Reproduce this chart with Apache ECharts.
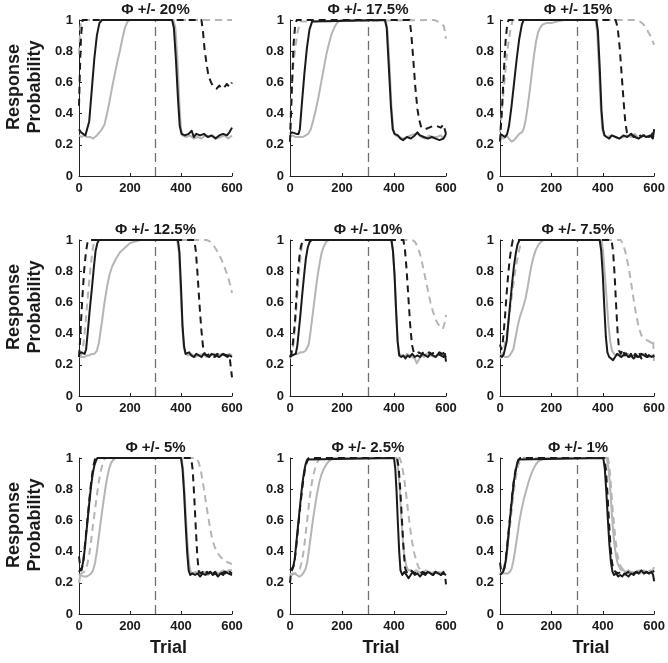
<!DOCTYPE html>
<html><head><meta charset="utf-8">
<script src="https://cdn.jsdelivr.net/npm/echarts@6/dist/echarts.min.js"></script>
<style>html,body{margin:0;padding:0;background:#fff}#c{width:668px;height:663px}</style>
</head><body><div id="c"></div>
<script>
// ---------- DATA ----------
const panelTitles = ['Φ +/- 20%','Φ +/- 17.5%','Φ +/- 15%','Φ +/- 12.5%','Φ +/- 10%','Φ +/- 7.5%','Φ +/- 5%','Φ +/- 2.5%','Φ +/- 1%'];
const xTicks = [0, 200, 400, 600];
const yTicks = [0, 0.2, 0.4, 0.6, 0.8, 1];
const switchTrial = 300;
const xLabel = 'Trial';
const yLabelLines = ['Response', 'Probability'];

// Φ 20%
const phi20_solidBlack = [[0,0.30],[8,0.28],[15,0.27],[25,0.26],[32,0.27],[40,0.35],[50,0.55],[60,0.75],[70,0.9],[80,0.98],[90,1],[365,1],[372,0.95],[380,0.75],[388,0.5],[395,0.32],[402,0.27],[415,0.26],[430,0.27],[442,0.29],[450,0.25],[460,0.27],[475,0.26],[490,0.27],[505,0.25],[520,0.26],[535,0.24],[550,0.26],[565,0.27],[580,0.26],[590,0.28],[600,0.31]];
const phi20_dashedBlack = [[0,0.45],[4,0.7],[8,0.9],[14,1],[480,1],[486,0.93],[492,0.82],[500,0.72],[508,0.64],[518,0.6],[528,0.57],[540,0.56],[550,0.58],[560,0.56],[570,0.57],[580,0.59],[590,0.57],[600,0.6]];
const phi20_solidGray = [[0,0.26],[10,0.25],[20,0.26],[30,0.25],[45,0.25],[55,0.24],[62,0.23],[70,0.26],[80,0.28],[90,0.3],[100,0.33],[110,0.4],[120,0.48],[130,0.57],[140,0.65],[150,0.73],[160,0.8],[170,0.88],[180,0.95],[190,0.99],[200,1],[370,1],[378,0.95],[386,0.75],[394,0.45],[400,0.3],[406,0.26],[420,0.25],[435,0.26],[450,0.24],[465,0.25],[480,0.24],[495,0.26],[510,0.25],[525,0.26],[540,0.24],[555,0.25],[570,0.26],[585,0.24],[600,0.26]];
const phi20_dashedGray = [[0,0.78],[5,0.95],[10,1],[600,1]];

// Φ 17.5%
const phi175_solidBlack = [[0,0.27],[8,0.28],[15,0.27],[25,0.27],[33,0.27],[38,0.3],[45,0.45],[55,0.65],[65,0.82],[75,0.94],[85,0.99],[92,1],[365,1],[372,0.95],[380,0.7],[388,0.45],[395,0.3],[402,0.27],[415,0.26],[425,0.24],[435,0.23],[450,0.25],[465,0.24],[480,0.26],[490,0.28],[500,0.26],[515,0.25],[530,0.24],[545,0.25],[560,0.24],[575,0.23],[590,0.24],[600,0.27]];
const phi175_dashedBlack = [[0,0.22],[3,0.35],[8,0.6],[14,0.85],[20,0.97],[26,1],[460,1],[466,0.92],[474,0.75],[482,0.57],[490,0.43],[497,0.36],[505,0.31],[520,0.3],[535,0.31],[550,0.32],[565,0.32],[580,0.31],[590,0.33],[597,0.34],[600,0.27]];
const phi175_solidGray = [[0,0.25],[10,0.26],[20,0.25],[35,0.25],[50,0.25],[60,0.26],[70,0.27],[80,0.3],[90,0.36],[100,0.43],[110,0.51],[120,0.6],[130,0.69],[140,0.78],[150,0.85],[160,0.91],[170,0.95],[180,0.98],[195,1],[368,1],[375,0.93],[383,0.7],[390,0.45],[397,0.3],[405,0.26],[420,0.25],[435,0.24],[450,0.25],[465,0.26],[480,0.27],[490,0.27],[505,0.25],[520,0.24],[535,0.26],[550,0.25],[565,0.25],[580,0.26],[590,0.24],[600,0.26]];
const phi175_dashedGray = [[0,0.3],[5,0.5],[12,0.7],[20,0.82],[30,0.93],[40,0.99],[45,1],[555,1],[570,0.99],[582,0.98],[592,0.96],[597,0.95],[600,0.88]];

// Φ 15%
const phi15_solidBlack = [[0,0.27],[10,0.26],[20,0.25],[28,0.27],[35,0.32],[45,0.45],[55,0.6],[65,0.75],[75,0.88],[85,0.97],[92,1],[375,1],[381,0.93],[388,0.7],[395,0.42],[401,0.3],[407,0.26],[415,0.25],[425,0.24],[435,0.26],[450,0.25],[465,0.24],[480,0.26],[495,0.25],[510,0.27],[525,0.25],[540,0.24],[555,0.26],[570,0.25],[585,0.26],[595,0.24],[600,0.3]];
const phi15_dashedBlack = [[0,0.22],[4,0.33],[10,0.5],[16,0.7],[22,0.87],[28,0.97],[33,1],[450,1],[458,0.95],[466,0.82],[474,0.64],[482,0.46],[488,0.34],[494,0.28],[500,0.26],[510,0.27],[520,0.25],[530,0.26],[540,0.27],[550,0.25],[560,0.26],[570,0.27],[580,0.25],[590,0.26],[600,0.3]];
const phi15_solidGray = [[0,0.22],[5,0.25],[15,0.24],[25,0.26],[35,0.24],[45,0.22],[55,0.23],[65,0.25],[75,0.27],[85,0.28],[92,0.3],[100,0.36],[108,0.45],[116,0.55],[124,0.66],[132,0.77],[140,0.86],[148,0.92],[156,0.95],[165,0.97],[180,0.98],[200,0.98],[220,0.99],[250,1],[372,1],[378,0.93],[385,0.7],[392,0.45],[398,0.3],[405,0.26],[420,0.25],[435,0.26],[450,0.25],[465,0.24],[480,0.25],[495,0.26],[510,0.25],[525,0.27],[540,0.24],[555,0.26],[570,0.25],[585,0.26],[600,0.25]];
const phi15_dashedGray = [[0,0.28],[4,0.35],[10,0.47],[18,0.62],[26,0.76],[34,0.87],[42,0.95],[50,1],[530,1],[545,0.99],[560,0.97],[575,0.93],[588,0.89],[600,0.84]];

// Φ 12.5%
const phi125_solidBlack = [[0,0.27],[8,0.28],[15,0.27],[22,0.27],[28,0.3],[35,0.42],[42,0.55],[50,0.68],[58,0.82],[65,0.93],[72,0.98],[78,1],[388,1],[394,0.92],[400,0.7],[406,0.45],[412,0.32],[418,0.27],[425,0.26],[432,0.28],[440,0.26],[450,0.25],[460,0.27],[470,0.26],[480,0.25],[490,0.27],[500,0.26],[510,0.25],[520,0.27],[535,0.26],[550,0.25],[565,0.27],[580,0.26],[590,0.26],[600,0.25]];
const phi125_dashedBlack = [[0,0.25],[4,0.35],[8,0.48],[14,0.65],[20,0.8],[27,0.92],[33,0.98],[38,1],[452,1],[458,0.93],[465,0.78],[472,0.6],[479,0.44],[486,0.32],[493,0.27],[502,0.26],[512,0.27],[522,0.26],[532,0.25],[542,0.27],[552,0.26],[562,0.27],[572,0.26],[582,0.25],[590,0.26],[596,0.25],[600,0.12]];
const phi125_solidGray = [[0,0.27],[8,0.25],[15,0.24],[22,0.25],[30,0.26],[40,0.26],[50,0.27],[60,0.27],[70,0.29],[78,0.34],[85,0.42],[92,0.5],[100,0.6],[110,0.7],[120,0.78],[130,0.83],[145,0.88],[160,0.92],[180,0.95],[200,0.98],[220,0.99],[240,1],[385,1],[392,0.92],[398,0.7],[405,0.45],[411,0.31],[418,0.27],[428,0.26],[440,0.27],[455,0.25],[470,0.26],[485,0.27],[500,0.25],[515,0.26],[530,0.27],[545,0.26],[560,0.27],[575,0.26],[590,0.27],[600,0.26]];
const phi125_dashedGray = [[0,0.25],[8,0.26],[15,0.3],[22,0.4],[30,0.55],[38,0.7],[45,0.82],[52,0.92],[58,0.98],[64,1],[500,1],[515,0.99],[530,0.96],[545,0.92],[560,0.87],[572,0.82],[585,0.76],[595,0.7],[600,0.66]];

// Φ 10%
const phi10_solidBlack = [[0,0.25],[8,0.26],[15,0.25],[22,0.27],[28,0.32],[34,0.42],[40,0.52],[47,0.65],[54,0.77],[61,0.88],[68,0.95],[76,0.99],[85,1],[390,1],[396,0.93],[402,0.78],[408,0.55],[414,0.35],[420,0.26],[428,0.25],[436,0.26],[444,0.24],[452,0.26],[460,0.25],[470,0.27],[480,0.25],[490,0.26],[500,0.25],[510,0.27],[520,0.26],[530,0.25],[540,0.27],[550,0.26],[560,0.25],[570,0.27],[580,0.26],[590,0.25],[596,0.27],[600,0.22]];
const phi10_dashedBlack = [[0,0.25],[5,0.27],[10,0.32],[15,0.4],[20,0.5],[25,0.64],[30,0.78],[36,0.89],[42,0.96],[50,1],[436,1],[442,0.94],[448,0.82],[455,0.64],[462,0.46],[469,0.33],[476,0.28],[485,0.27],[495,0.28],[505,0.27],[515,0.28],[525,0.27],[535,0.28],[545,0.27],[555,0.28],[565,0.27],[575,0.28],[585,0.27],[595,0.28],[600,0.25]];
const phi10_solidGray = [[0,0.27],[10,0.26],[20,0.27],[30,0.27],[40,0.28],[50,0.28],[60,0.29],[66,0.3],[72,0.33],[78,0.4],[84,0.48],[90,0.56],[96,0.64],[102,0.72],[108,0.79],[115,0.86],[122,0.92],[130,0.96],[140,0.99],[150,1],[390,1],[396,0.93],[402,0.78],[408,0.55],[414,0.35],[420,0.27],[430,0.26],[440,0.25],[450,0.27],[460,0.26],[470,0.25],[480,0.24],[488,0.21],[495,0.23],[505,0.26],[515,0.25],[525,0.27],[540,0.26],[555,0.25],[570,0.26],[585,0.27],[600,0.26]];
const phi10_dashedGray = [[0,0.24],[6,0.27],[12,0.32],[18,0.42],[24,0.55],[30,0.7],[36,0.82],[42,0.92],[48,0.98],[55,1],[470,1],[480,0.99],[490,0.96],[500,0.91],[510,0.84],[520,0.76],[530,0.68],[540,0.6],[550,0.54],[560,0.49],[570,0.46],[580,0.44],[588,0.43],[595,0.47],[600,0.52]];

// Φ 7.5%
const phi75_solidBlack = [[0,0.26],[8,0.25],[15,0.27],[20,0.28],[26,0.35],[33,0.48],[40,0.6],[47,0.72],[54,0.83],[61,0.91],[68,0.97],[76,1],[388,1],[394,0.93],[400,0.78],[406,0.57],[412,0.38],[418,0.28],[425,0.25],[432,0.24],[440,0.23],[448,0.25],[456,0.27],[464,0.26],[472,0.25],[480,0.26],[490,0.27],[500,0.25],[510,0.26],[520,0.24],[530,0.26],[540,0.25],[550,0.27],[560,0.26],[570,0.25],[580,0.26],[590,0.25],[600,0.26]];
const phi75_dashedBlack = [[0,0.33],[5,0.3],[10,0.33],[15,0.42],[20,0.52],[26,0.66],[32,0.78],[38,0.88],[44,0.95],[50,1],[434,1],[440,0.93],[446,0.78],[452,0.58],[458,0.4],[464,0.29],[470,0.27],[478,0.3],[486,0.26],[494,0.28],[502,0.25],[510,0.27],[518,0.24],[526,0.27],[534,0.25],[542,0.28],[550,0.24],[558,0.26],[566,0.27],[574,0.25],[584,0.27],[592,0.26],[600,0.25]];
const phi75_solidGray = [[0,0.27],[10,0.26],[20,0.25],[30,0.25],[38,0.26],[45,0.27],[52,0.3],[60,0.37],[68,0.44],[76,0.5],[84,0.54],[92,0.58],[100,0.63],[108,0.7],[116,0.78],[124,0.85],[132,0.9],[140,0.94],[150,0.97],[160,0.99],[170,1],[395,1],[401,0.93],[408,0.78],[415,0.62],[422,0.46],[429,0.35],[436,0.29],[444,0.27],[452,0.26],[460,0.27],[470,0.25],[480,0.27],[490,0.26],[500,0.27],[510,0.25],[520,0.26],[530,0.27],[540,0.25],[550,0.26],[560,0.27],[570,0.26],[580,0.25],[590,0.26],[600,0.25]];
const phi75_dashedGray = [[0,0.24],[8,0.26],[15,0.3],[22,0.36],[30,0.44],[38,0.54],[46,0.64],[54,0.74],[62,0.83],[70,0.9],[78,0.96],[86,1],[470,1],[480,0.97],[490,0.91],[500,0.83],[510,0.73],[520,0.62],[530,0.52],[540,0.44],[550,0.39],[560,0.37],[570,0.36],[580,0.35],[590,0.34],[596,0.36],[600,0.2]];

// Φ 5%
const phi5_solidBlack = [[0,0.27],[6,0.28],[12,0.3],[18,0.35],[24,0.44],[30,0.54],[36,0.64],[42,0.74],[48,0.83],[54,0.9],[60,0.95],[66,0.98],[72,1],[400,1],[406,0.93],[412,0.78],[418,0.58],[424,0.4],[430,0.28],[436,0.25],[445,0.26],[455,0.25],[465,0.26],[475,0.24],[485,0.26],[495,0.25],[505,0.26],[515,0.27],[525,0.25],[535,0.26],[545,0.24],[555,0.26],[565,0.25],[575,0.27],[585,0.26],[600,0.25]];
const phi5_dashedBlack = [[0,0.37],[5,0.3],[10,0.28],[16,0.33],[22,0.42],[28,0.52],[34,0.62],[40,0.72],[46,0.82],[52,0.9],[58,0.96],[64,1],[440,1],[446,0.92],[452,0.75],[458,0.55],[464,0.37],[470,0.27],[478,0.26],[486,0.27],[494,0.25],[502,0.27],[510,0.26],[518,0.28],[526,0.26],[534,0.27],[542,0.25],[550,0.27],[560,0.26],[570,0.27],[580,0.25],[590,0.27],[600,0.26]];
const phi5_solidGray = [[0,0.2],[5,0.25],[12,0.25],[20,0.24],[30,0.24],[40,0.25],[48,0.26],[55,0.28],[62,0.32],[70,0.4],[78,0.5],[86,0.6],[94,0.7],[102,0.79],[110,0.87],[118,0.93],[126,0.97],[135,0.99],[145,1],[402,1],[408,0.93],[414,0.78],[420,0.6],[426,0.44],[432,0.32],[438,0.27],[446,0.26],[456,0.27],[466,0.26],[476,0.27],[486,0.26],[496,0.27],[506,0.25],[516,0.27],[526,0.26],[536,0.27],[546,0.26],[556,0.27],[566,0.28],[576,0.27],[588,0.28],[600,0.28]];
const phi5_dashedGray = [[0,0.25],[10,0.26],[20,0.27],[30,0.3],[38,0.36],[46,0.45],[54,0.56],[62,0.66],[70,0.76],[78,0.85],[86,0.92],[94,0.97],[102,1],[460,1],[470,0.97],[480,0.9],[490,0.8],[500,0.69],[510,0.59],[520,0.5],[530,0.44],[540,0.4],[553,0.37],[570,0.34],[585,0.33],[600,0.32]];

// Φ 2.5%
const phi25_solidBlack = [[0,0.28],[6,0.27],[12,0.3],[18,0.35],[24,0.45],[30,0.55],[36,0.65],[42,0.75],[48,0.84],[54,0.91],[60,0.96],[66,0.99],[72,1],[400,1],[405,0.93],[410,0.78],[415,0.58],[420,0.4],[425,0.28],[432,0.25],[440,0.27],[448,0.25],[456,0.23],[464,0.25],[472,0.27],[480,0.25],[490,0.26],[500,0.24],[510,0.26],[520,0.25],[530,0.27],[540,0.26],[550,0.25],[560,0.27],[570,0.26],[580,0.25],[590,0.26],[600,0.25]];
const phi25_dashedBlack = [[0,0.2],[4,0.27],[10,0.29],[16,0.32],[22,0.4],[28,0.5],[34,0.6],[40,0.7],[46,0.79],[52,0.87],[58,0.93],[64,0.97],[72,1],[412,1],[418,0.94],[424,0.8],[430,0.62],[436,0.44],[442,0.3],[448,0.27],[456,0.26],[464,0.28],[472,0.27],[480,0.26],[490,0.27],[500,0.26],[510,0.27],[520,0.26],[530,0.27],[540,0.26],[550,0.25],[560,0.27],[570,0.26],[580,0.25],[590,0.27],[596,0.25],[600,0.19]];
const phi25_solidGray = [[0,0.26],[8,0.25],[16,0.26],[26,0.25],[36,0.24],[46,0.25],[54,0.27],[60,0.29],[66,0.33],[72,0.4],[80,0.5],[88,0.6],[96,0.69],[104,0.77],[112,0.84],[120,0.89],[130,0.93],[140,0.96],[150,0.98],[165,1],[410,1],[416,0.93],[422,0.8],[428,0.62],[434,0.47],[440,0.37],[447,0.31],[455,0.28],[465,0.28],[475,0.27],[485,0.28],[495,0.27],[505,0.26],[515,0.27],[525,0.26],[535,0.27],[545,0.26],[555,0.27],[565,0.26],[575,0.27],[585,0.26],[600,0.25]];
const phi25_dashedGray = [[0,0.25],[10,0.26],[20,0.26],[30,0.27],[38,0.29],[45,0.33],[52,0.4],[58,0.48],[64,0.57],[70,0.66],[76,0.75],[82,0.82],[88,0.88],[96,0.93],[104,0.97],[115,1],[422,1],[430,0.96],[438,0.88],[446,0.78],[454,0.66],[462,0.55],[470,0.46],[478,0.39],[486,0.34],[494,0.3],[502,0.28],[512,0.27],[522,0.28],[532,0.27],[545,0.26],[560,0.27],[575,0.26],[590,0.25],[600,0.25]];

// Φ 1%
const phi1_solidBlack = [[0,0.25],[6,0.26],[12,0.27],[18,0.3],[24,0.36],[30,0.46],[36,0.56],[42,0.66],[48,0.76],[54,0.85],[60,0.91],[66,0.96],[72,0.99],[78,1],[402,1],[408,0.93],[414,0.78],[420,0.6],[426,0.44],[432,0.33],[438,0.27],[444,0.25],[452,0.26],[460,0.24],[468,0.25],[476,0.24],[484,0.26],[492,0.25],[500,0.24],[510,0.26],[520,0.25],[530,0.27],[540,0.26],[550,0.28],[560,0.26],[570,0.27],[580,0.26],[590,0.27],[596,0.25],[600,0.21]];
const phi1_dashedBlack = [[0,0.33],[5,0.27],[10,0.26],[16,0.29],[22,0.35],[28,0.44],[34,0.54],[40,0.64],[46,0.74],[52,0.83],[58,0.9],[64,0.95],[70,0.98],[78,1],[406,1],[412,0.93],[418,0.78],[424,0.6],[430,0.44],[436,0.33],[442,0.28],[450,0.27],[460,0.26],[470,0.27],[480,0.25],[490,0.26],[500,0.27],[510,0.25],[520,0.26],[530,0.27],[540,0.26],[550,0.27],[560,0.26],[570,0.27],[580,0.26],[590,0.28],[600,0.27]];
const phi1_solidGray = [[0,0.25],[10,0.26],[20,0.26],[30,0.26],[38,0.27],[45,0.29],[52,0.34],[60,0.42],[68,0.51],[76,0.6],[84,0.67],[92,0.73],[100,0.78],[110,0.84],[120,0.89],[130,0.93],[140,0.96],[150,0.98],[165,0.99],[175,1],[415,1],[421,0.95],[427,0.85],[433,0.7],[439,0.56],[445,0.45],[451,0.38],[457,0.33],[464,0.3],[472,0.28],[480,0.28],[490,0.27],[500,0.28],[510,0.27],[520,0.26],[530,0.27],[540,0.28],[550,0.27],[560,0.28],[570,0.27],[580,0.26],[590,0.27],[600,0.3]];
const phi1_dashedGray = [[0,0.26],[8,0.27],[16,0.29],[22,0.33],[28,0.4],[34,0.49],[40,0.58],[46,0.67],[52,0.76],[58,0.84],[64,0.9],[70,0.95],[78,0.98],[86,1],[420,1],[426,0.94],[432,0.82],[438,0.68],[444,0.57],[450,0.47],[456,0.39],[462,0.34],[468,0.31],[476,0.29],[485,0.28],[495,0.27],[505,0.26],[515,0.27],[525,0.26],[535,0.27],[545,0.26],[555,0.27],[565,0.26],[575,0.27],[585,0.28],[595,0.27],[600,0.28]];

// per panel: [dashedGray, solidGray, dashedBlack, solidBlack]
const panelData = [
  [phi20_dashedGray, phi20_solidGray, phi20_dashedBlack, phi20_solidBlack],
  [phi175_dashedGray, phi175_solidGray, phi175_dashedBlack, phi175_solidBlack],
  [phi15_dashedGray, phi15_solidGray, phi15_dashedBlack, phi15_solidBlack],
  [phi125_dashedGray, phi125_solidGray, phi125_dashedBlack, phi125_solidBlack],
  [phi10_dashedGray, phi10_solidGray, phi10_dashedBlack, phi10_solidBlack],
  [phi75_dashedGray, phi75_solidGray, phi75_dashedBlack, phi75_solidBlack],
  [phi5_dashedGray, phi5_solidGray, phi5_dashedBlack, phi5_solidBlack],
  [phi25_dashedGray, phi25_solidGray, phi25_dashedBlack, phi25_solidBlack],
  [phi1_dashedGray, phi1_solidGray, phi1_dashedBlack, phi1_solidBlack]
];

// ---------- LAYOUT / STYLE ----------
const colLeft = [79, 290, 500];
const colWidth = [153, 156, 156];
const rowTop = [20, 240, 458];
const plotH = 156;
const FONT = '"Liberation Sans", Arial, Helvetica, sans-serif';
const BLACK = '#1a1a1a';
const GRAY = '#b5b5b5';
const DASH = [7, 5];

const grids = [], xAxes = [], yAxes = [], series = [], graphics = [];
for (let i = 0; i < 9; i++) {
  const r = Math.floor(i / 3), c = i % 3;
  grids.push({left: colLeft[c], top: rowTop[r], width: colWidth[c], height: plotH, containLabel: false});
  xAxes.push({
    gridIndex: i, type: 'value', min: xTicks[0], max: xTicks[xTicks.length-1], interval: xTicks[1]-xTicks[0],
    axisLine: {show: true, onZero: false, lineStyle: {color: '#222', width: 1}},
    axisTick: {show: true, inside: true, length: 3, lineStyle: {color: '#222'}},
    axisLabel: {color: '#1a1a1a', fontSize: 13, fontWeight: 'bold', fontFamily: FONT, margin: 6},
    splitLine: {show: false}
  });
  yAxes.push({
    gridIndex: i, type: 'value', min: yTicks[0], max: yTicks[yTicks.length-1], interval: yTicks[1]-yTicks[0],
    axisLine: {show: true, onZero: false, lineStyle: {color: '#222', width: 1}},
    axisTick: {show: true, inside: true, length: 3, lineStyle: {color: '#222'}},
    axisLabel: {color: '#1a1a1a', fontSize: 13, fontWeight: 'bold', fontFamily: FONT, margin: 6,
      formatter: v => String(Math.round(v*10)/10)},
    splitLine: {show: false}
  });
  const styles = [
    {color: GRAY, type: DASH},
    {color: GRAY, type: 'solid'},
    {color: BLACK, type: DASH},
    {color: BLACK, type: 'solid'}
  ];
  panelData[i].forEach((d, k) => {
    const s = {
      type: 'line', xAxisIndex: i, yAxisIndex: i, data: d, showSymbol: false, symbol: 'none',
      clip: false, animation: false, z: 2 + k,
      lineStyle: {color: styles[k].color, type: styles[k].type, width: 2, join: 'round', cap: 'butt'}
    };
    if (k === 0) {
      s.markLine = {silent: true, symbol: 'none', label: {show: false}, animation: false,
        lineStyle: {color: '#707070', type: [9, 5], width: 1.3},
        data: [{xAxis: switchTrial}]};
    }
    series.push(s);
  });
  // title
  graphics.push({type: 'text', x: colLeft[c] + colWidth[c]/2, y: rowTop[r] - 10,
    style: {text: panelTitles[i], font: 'bold 15px ' + FONT, fill: '#1a1a1a', textAlign: 'center', textVerticalAlign: 'middle'}});
}
for (let r = 0; r < 3; r++) {
  const cy = rowTop[r] + plotH/2 - 11;
  graphics.push({type: 'text', x: 14, y: cy, rotation: Math.PI/2,
    style: {text: yLabelLines[0], font: 'bold 18px ' + FONT, fill: '#1a1a1a', textAlign: 'center', textVerticalAlign: 'middle'}});
  graphics.push({type: 'text', x: 35, y: cy, rotation: Math.PI/2,
    style: {text: yLabelLines[1], font: 'bold 18px ' + FONT, fill: '#1a1a1a', textAlign: 'center', textVerticalAlign: 'middle'}});
}
for (let c = 0; c < 3; c++) {
  graphics.push({type: 'text', x: colLeft[c] + colWidth[c]/2 + 13, y: 648,
    style: {text: xLabel, font: 'bold 18px ' + FONT, fill: '#1a1a1a', textAlign: 'center', textVerticalAlign: 'middle'}});
}

const chart = echarts.init(document.getElementById('c'), null, {renderer: 'canvas'});
chart.setOption({
  animation: false, backgroundColor: '#fff',
  grid: grids, xAxis: xAxes, yAxis: yAxes, series: series, graphic: graphics
});
</script>
</body></html>
